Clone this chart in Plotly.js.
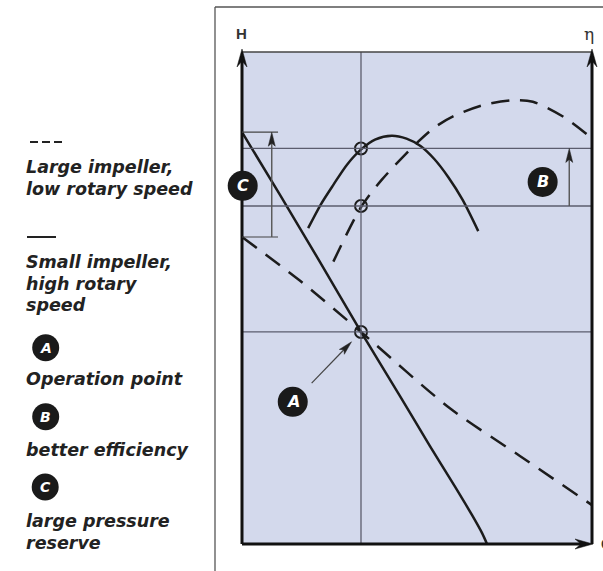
<!DOCTYPE html>
<html>
<head>
<meta charset="utf-8">
<script src="https://cdn.plot.ly/plotly-3.0.1.min.js"></script>
<style>html,body{margin:0;padding:0;background:#fff;}#chart{width:603px;height:571px;}</style>
</head>
<body>
<div id="chart"></div>
<script>
// ---- data (Q and H / eta in relative units 0..100) ----
const qSmallH   = [0, 10.9, 22.3, 34, 45.1, 53.7, 60.9, 65.7, 68.6, 70];
const hSmallH   = [83.7, 70.9, 57.3, 43.1, 30.1, 19.9, 11.6, 5.9, 2.2, 0];
const qLargeH   = [0, 16.6, 34, 59.4, 79.4, 100];
const hLargeH   = [62.4, 53.5, 43.1, 27.6, 17.9, 7.9];
const qSmallEta = [18.9, 22.5, 26.1, 30, 34.2, 38, 42.8, 47, 51, 55, 59, 63, 67.5];
const etaSmall  = [64.2, 69.0, 73.0, 77.1, 80.3, 82.2, 83.0, 82.4, 80.9, 78.2, 74.5, 70.0, 63.6];
const qLargeEta = [26.1, 34.2, 39.9, 48.9, 54.7, 60.3, 68.9, 77.5, 83.1, 91.7, 99.4];
const etaLarge  = [57.4, 68.7, 74.0, 80.8, 84.5, 86.9, 89.2, 90.2, 89.9, 86.9, 82.8];
const qOp = 34;
const opValues = [43.1, 80.4, 68.7];   // operating head, eta small impeller, eta large impeller
const legendLines = [
  ["Large impeller,", 167.3], ["low rotary speed", 188.5],
  ["Small impeller,", 262.3], ["high rotary", 283.5], ["speed", 305],
  ["Operation point", 379], ["better efficiency", 449.7],
  ["large pressure", 520.7], ["reserve", 543.3]
];
const badgeLetters = ["A", "B", "C"];

// ---- geometry helpers ----
const L = 242, T = 52, PW = 350, PH = 492;
const pxX = q => L + q * PW / 100;
const pxY = h => T + PH - h * PH / 100;
const paperX = px => (px - L) / PW;
const paperY = py => (T + PH - py) / PH;

const shapes = [];
const annotations = [];
const ink = '#1c1c1c';
const refColor = '#5b5d6e';

function lineShape(x0, y0, x1, y1, color, width, dash) {
  shapes.push({type: 'line', xref: 'paper', yref: 'paper',
    x0: paperX(x0), y0: paperY(y0), x1: paperX(x1), y1: paperY(y1),
    line: {color: color, width: width, dash: dash || 'solid'}});
}
function arrowHead(tx, ty, ux, uy, len, hw, notch, color) {
  const nx = -uy, ny = ux;
  const p = [
    [tx, ty],
    [tx - ux * len + nx * hw, ty - uy * len + ny * hw],
    [tx - ux * notch, ty - uy * notch],
    [tx - ux * len - nx * hw, ty - uy * len - ny * hw]
  ];
  const path = 'M' + p.map(a => paperX(a[0]) + ',' + paperY(a[1])).join('L') + 'Z';
  shapes.push({type: 'path', xref: 'paper', yref: 'paper', path: path,
    fillcolor: color, line: {color: color, width: 0.5}});
}
function badge(cx, cy, r, letter, fs) {
  shapes.push({type: 'circle', xref: 'paper', yref: 'paper',
    xsizemode: 'pixel', ysizemode: 'pixel',
    xanchor: paperX(cx), yanchor: paperY(cy),
    x0: -r, x1: r, y0: -r, y1: r,
    fillcolor: '#1a1a1a', line: {color: '#1a1a1a', width: 0}});
  annotations.push({xref: 'paper', yref: 'paper', x: paperX(cx), y: paperY(cy),
    xanchor: 'center', yanchor: 'middle', showarrow: false,
    text: '<b><i>' + letter + '</i></b>',
    font: {family: 'DejaVu Sans', size: fs, color: '#ffffff'}});
}

// outer frame
lineShape(215, 7, 215, 580, '#555', 1.3);
lineShape(215, 7, 610, 7, '#555', 1.3);

// reference lines
lineShape(pxX(qOp), T, pxX(qOp), T + PH, refColor, 1.3);
opValues.forEach(v => lineShape(L, pxY(v), L + PW, pxY(v), refColor, 1.3));
// top border
lineShape(L, T, L + PW, T, '#444', 1.5);

// axes
lineShape(L, T + PH, L, T + 8, '#111', 3);
lineShape(L + PW, T + PH, L + PW, T + 8, '#111', 3);
lineShape(L, T + PH, L + PW - 8, T + PH, '#111', 3);
arrowHead(L, T - 3, 0, -1, 18, 5, 12, '#111');
arrowHead(L + PW, T - 3, 0, -1, 18, 5, 12, '#111');
arrowHead(L + PW + 1, T + PH, 1, 0, 18, 5, 12, '#111');

// C: pressure reserve bracket
const cX = pxX(8.5);
lineShape(L, pxY(hSmallH[0]), pxX(10.3), pxY(hSmallH[0]), '#444', 1.2);
lineShape(L, pxY(hLargeH[0]), pxX(10.3), pxY(hLargeH[0]), '#444', 1.2);
lineShape(cX, pxY(hLargeH[0]), cX, pxY(hSmallH[0]) + 10, '#555', 1.4);
arrowHead(cX, pxY(hSmallH[0]), 0, -1, 14, 3.5, 11, '#222');

// B: efficiency gain arrow
const bX = pxX(93.5);
lineShape(bX, pxY(opValues[2]), bX, pxY(opValues[1]) + 10, '#555', 1.4);
arrowHead(bX, pxY(opValues[1]), 0, -1, 14, 3.5, 11, '#222');

// A: arrow to operation point
const aT = [pxX(19.9), pxY(32.7)], aH = [pxX(31.3), pxY(41.1)];
const adx = aH[0] - aT[0], ady = aH[1] - aT[1], alen = Math.hypot(adx, ady);
const aux = adx / alen, auy = ady / alen;
lineShape(aT[0], aT[1], aH[0] - aux * 10, aH[1] - auy * 10, '#444', 1.2);
arrowHead(aH[0], aH[1], aux, auy, 14, 3.5, 11, '#222');

// badges in chart
badge(pxX(14.5), pxY(28.9), 15, badgeLetters[0], 16);
badge(pxX(85.9), pxY(73.6), 15, badgeLetters[1], 16);
badge(pxX(0.2), pxY(72.8), 15, badgeLetters[2], 16);

// legend (left side)
lineShape(30, 142, 62, 142, '#222', 2, '8px,4px');
lineShape(27, 237, 56, 237, '#222', 2);
legendLines.forEach(([t, y]) => annotations.push({
  xref: 'paper', yref: 'paper', x: paperX(24), y: paperY(y),
  xanchor: 'left', yanchor: 'middle', showarrow: false,
  text: '<b><i>' + t + '</i></b>',
  font: {family: 'DejaVu Sans', size: 17.5, color: '#222'}
}));
badge(45.7, 347.7, 13.5, badgeLetters[0], 14);
badge(45.7, 416.7, 13.5, badgeLetters[1], 14);
badge(45.2, 487, 13.5, badgeLetters[2], 14);

// axis labels
annotations.push({xref: 'paper', yref: 'paper', x: paperX(241), y: paperY(34),
  xanchor: 'center', yanchor: 'middle', showarrow: false, text: '<b>H</b>',
  font: {family: 'Liberation Sans', size: 15, color: '#333'}});
annotations.push({xref: 'paper', yref: 'paper', x: paperX(589), y: paperY(34),
  xanchor: 'center', yanchor: 'middle', showarrow: false, text: 'η',
  font: {family: 'DejaVu Serif', size: 17, color: '#333'}});
annotations.push({xref: 'paper', yref: 'paper', x: paperX(599), y: paperY(544),
  xanchor: 'left', yanchor: 'middle', showarrow: false, text: '<b>Q</b>',
  font: {family: 'Liberation Sans', size: 14, color: '#333'}});

const curveLine = {color: ink, width: 2.5, shape: 'spline', smoothing: 0.8};
const dashed = Object.assign({}, curveLine, {dash: '18px,11px'});

const traces = [
  {x: qSmallH, y: hSmallH, mode: 'lines', line: curveLine},
  {x: qLargeH, y: hLargeH, mode: 'lines', line: dashed},
  {x: qSmallEta, y: etaSmall, mode: 'lines', line: curveLine},
  {x: qLargeEta, y: etaLarge, mode: 'lines', line: dashed},
  {x: opValues.map(() => qOp), y: opValues, mode: 'markers',
   marker: {symbol: 'circle-open', size: 12, color: ink, line: {width: 2, color: ink}}}
];

const layout = {
  width: 603, height: 571,
  margin: {l: L, r: 603 - L - PW, t: T, b: 571 - T - PH, pad: 0},
  paper_bgcolor: '#ffffff', plot_bgcolor: '#d3d9ec',
  showlegend: false,
  xaxis: {range: [0, 100], showgrid: false, zeroline: false, showticklabels: false, ticks: '', showline: false, fixedrange: true},
  yaxis: {range: [0, 100], showgrid: false, zeroline: false, showticklabels: false, ticks: '', showline: false, fixedrange: true},
  shapes: shapes,
  annotations: annotations
};

Plotly.newPlot('chart', traces, layout, {displayModeBar: false, staticPlot: true});
</script>
</body>
</html>
